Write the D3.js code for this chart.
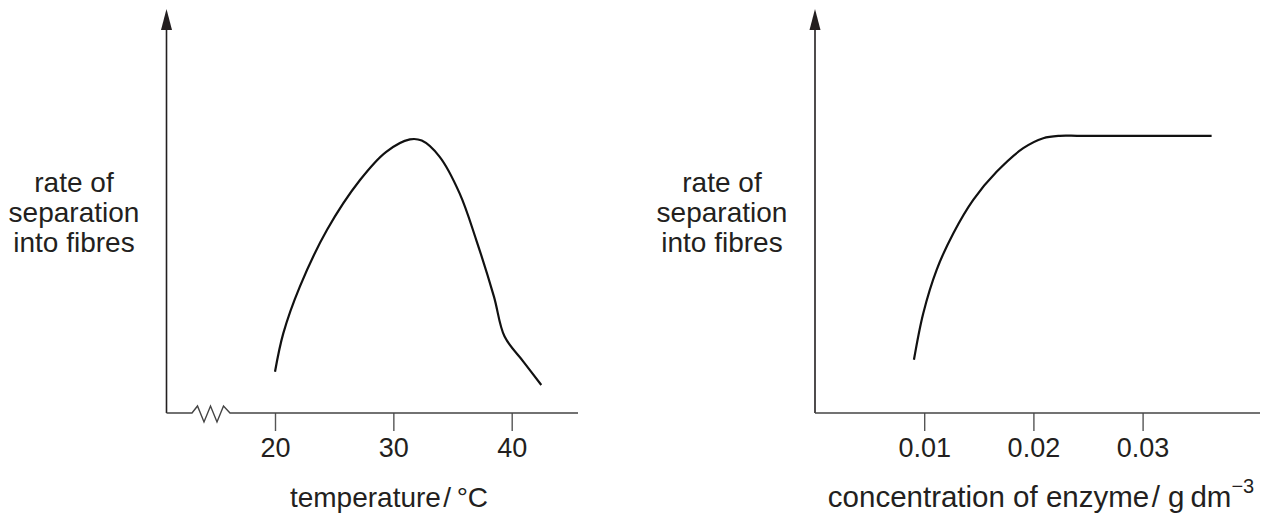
<!doctype html>
<html lang="en">
<head>
    <meta charset="utf-8">
    <script src="https://d3js.org/d3.v7.min.js"></script>
    <style>
        html, body {
            margin: 0;
            padding: 0;
            background: #fff;
        }
        svg text {
            font-family: "Liberation Sans", Arial, Helvetica, sans-serif;
            fill: #231f20;
        }
    </style>
</head>
<body>
<svg id="svg" width="1262" height="520"></svg>
<script>
    // left graph: temperature
    var tempX = [20, 20.7, 22.1, 24.4, 27.2, 29.4, 31.4, 32.4, 33.9, 35.6, 37.0, 38.5, 39.4, 41.0, 42.5];
    var tempRate = [1.03, 1.99, 3.16, 4.58, 5.83, 6.53, 6.84, 6.81, 6.41, 5.49, 4.33, 2.91, 1.91, 1.28, 0.70];
    var tempTicks = [20, 30, 40];

    // right graph: enzyme concentration
    var concX = [0.00906, 0.00991, 0.01114, 0.01266, 0.01449, 0.01663, 0.01907, 0.0209, 0.02243, 0.0240, 0.0260, 0.03632];
    var concRate = [1.33, 2.49, 3.58, 4.49, 5.33, 6.03, 6.62, 6.87, 6.93, 6.93, 6.93, 6.93];
    var concTicks = [0.01, 0.02, 0.03];

    var yLabel = ["rate of", "separation", "into fibres"];

    var svg = d3.select("#svg");
    var ink = "#231f20";
    var axisY = 413;

    var y = d3.scaleLinear().domain([0, 10]).range([axisY, 13]);

    // temperature axis is broken below 20
    var xL = d3.scaleLinear().domain([20, 40]).range([275, 511.7]);
    // concentration axis starts at 0
    var xR = d3.scaleLinear().domain([0, 0.03]).range([815, 1142.6]);

    var drawPanel = function (x, x0, ticks, fmt, xs, ys, labelX, title, titleX, titleSize) {
        var g = svg.append("g");

        // y axis with arrow head
        g.append("line")
            .attr("x1", x0).attr("y1", axisY)
            .attr("x2", x0).attr("y2", 28)
            .attr("stroke", ink).attr("stroke-width", 1.6);
        g.append("path")
            .attr("d", "M" + x0 + ",9 L" + (x0 - 5.5) + ",30 L" + (x0 + 5.5) + ",30 Z")
            .attr("fill", ink);

        // x axis
        var ax = g.append("g")
            .attr("transform", "translate(0," + axisY + ")")
            .call(d3.axisBottom(x).tickValues(ticks).tickSize(18).tickFormat(fmt));
        ax.select(".domain").remove();
        ax.selectAll(".tick line").attr("stroke", "#555").attr("stroke-width", 1.4);
        ax.selectAll(".tick text")
            .attr("y", 44).attr("dy", 0)
            .style("font-size", "27px")
            .style("font-family", '"Liberation Sans", Arial, sans-serif')
            .attr("fill", ink);

        // y label
        var t = g.append("text")
            .attr("text-anchor", "middle")
            .style("font-size", "28px");
        yLabel.forEach(function (s, i) {
            t.append("tspan").attr("x", labelX).attr("y", 192 + i * 30).text(s);
        });

        // x title
        var tt = g.append("text")
            .attr("x", titleX).attr("y", 507)
            .attr("text-anchor", "middle")
            .style("font-size", titleSize + "px");
        title(tt);

        // curve
        var pts = xs.map(function (v, i) { return [x(v), y(ys[i])]; });
        g.append("path")
            .attr("d", d3.line().curve(d3.curveCatmullRom.alpha(0.5))(pts))
            .attr("fill", "none")
            .attr("stroke", "#111")
            .attr("stroke-width", 2.2);
        return g;
    };

    var left = drawPanel(xL, 166.5, tempTicks, d3.format("d"), tempX, tempRate, 74,
        function (t) { t.text("temperature\u200A/\u2009\u00b0C"); }, 389, 28);

    // domain line with the break zigzag
    var zig = [[166.5, 0], [192, 0], [197.5, -7], [204, 9], [210.5, -7], [217, 9], [223.5, -7], [230, 0], [578, 0]];
    left.append("path")
        .attr("d", d3.line()(zig.map(function (p) { return [p[0], axisY + p[1]]; })))
        .attr("fill", "none")
        .attr("stroke", "#444")
        .attr("stroke-width", 1.4);

    var right = drawPanel(xR, 815, concTicks, d3.format(".2f"), concX, concRate, 722,
        function (t) {
            t.append("tspan").text("concentration of enzyme\u200A/ g\u2009dm");
            t.append("tspan").attr("dy", -14).style("font-size", "20px").text("\u22123");
        }, 1041, 29.5);

    right.append("line")
        .attr("x1", 815).attr("y1", axisY)
        .attr("x2", 1260).attr("y2", axisY)
        .attr("stroke", "#444")
        .attr("stroke-width", 1.4);
</script>
</body>
</html>
